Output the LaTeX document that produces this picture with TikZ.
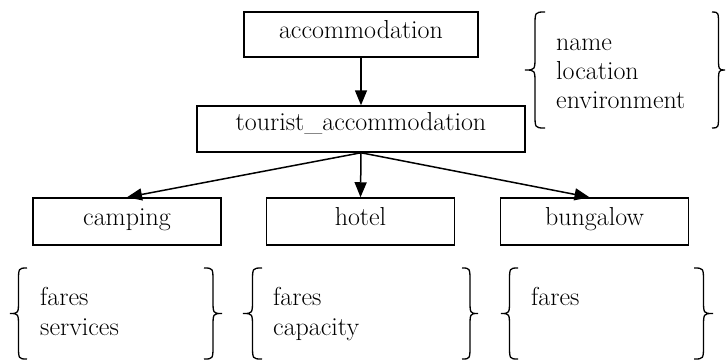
\documentclass[tikz,border=0pt]{standalone}
\usetikzlibrary{arrows.meta}
\newcommand{\mybrace}[4]{%
  \pgfmathsetmacro{\bxm}{(#1+#2)/2}%
  \pgfmathsetmacro{\bym}{(#3+#4)/2}%
  \draw[bracestyle] (#2,#3) .. controls (\bxm,#3) .. (\bxm,#3+14)
    -- (\bxm,\bym-14) .. controls (\bxm,\bym) .. (#1,\bym)
    .. controls (\bxm,\bym) .. (\bxm,\bym+14)
    -- (\bxm,#4-14) .. controls (\bxm,#4) .. (#2,#4);}
\tikzset{
  txt/.style={font=\fontsize{26}{30}\selectfont},
  box/.style={draw, line width=1.5pt, inner sep=0pt, txt},
  attr/.style={anchor=base west, inner sep=0pt, txt},
  conn/.style={line width=1.5pt, -{Triangle[length=15pt,width=12pt]}},
  bracestyle/.style={line width=1.3pt}
}
\begin{document}
\begin{tikzpicture}[x={(1pt,0)}, y={(0,-1pt)}]
\useasboundingbox (0,0) rectangle (726,360);
\node[box, minimum width=234pt, minimum height=45pt, text height=16pt, text depth=8pt] (acc) at (361,34.5) {accommodation};
\node[box, minimum width=328pt, minimum height=46pt, text height=14pt, text depth=11pt] (tour) at (361,129) {tourist\_accommodation};
\node[box, minimum width=188pt, minimum height=47pt, text height=15pt, text depth=8pt] (camp) at (127,221.5) {camping};
\node[box, minimum width=188pt, minimum height=47pt, text height=15pt, text depth=8pt] (hotel) at (360.5,221.5) {hotel};
\node[box, minimum width=188pt, minimum height=47pt, text height=15pt, text depth=8pt] (bung) at (594.5,221.5) {bungalow};
\draw[conn] (acc.south) -- (tour.north);
\draw[conn] (tour.south) -- (camp.north);
\draw[conn] (tour.south) -- (hotel.north);
\draw[conn] (tour.south) -- ([xshift=-5pt]bung.north);
% top-right attributes
\mybrace{525}{545}{12}{128}
\mybrace{725}{712}{12}{128}
\node[attr] (tname) at (556,50) {name};
\node[attr] (tloc) at (556,79) {location};
\node[attr] (tenv) at (556,108) {environment};
% camping attributes
\mybrace{10}{27}{268}{359}
\mybrace{222}{204}{268}{359}
\node[attr] (cf) at (40,305) {fares};
\node[attr] (cs) at (40,335) {services};
% hotel attributes
\mybrace{243}{262}{268}{359}
\mybrace{478}{462}{268}{359}
\node[attr] (hf) at (273,305) {fares};
\node[attr] (hc) at (273,335) {capacity};
% bungalow attributes
\mybrace{501}{518}{268}{359}
\mybrace{713}{694}{268}{359}
\node[attr] (bf) at (531,305) {fares};
\end{tikzpicture}
\end{document}
